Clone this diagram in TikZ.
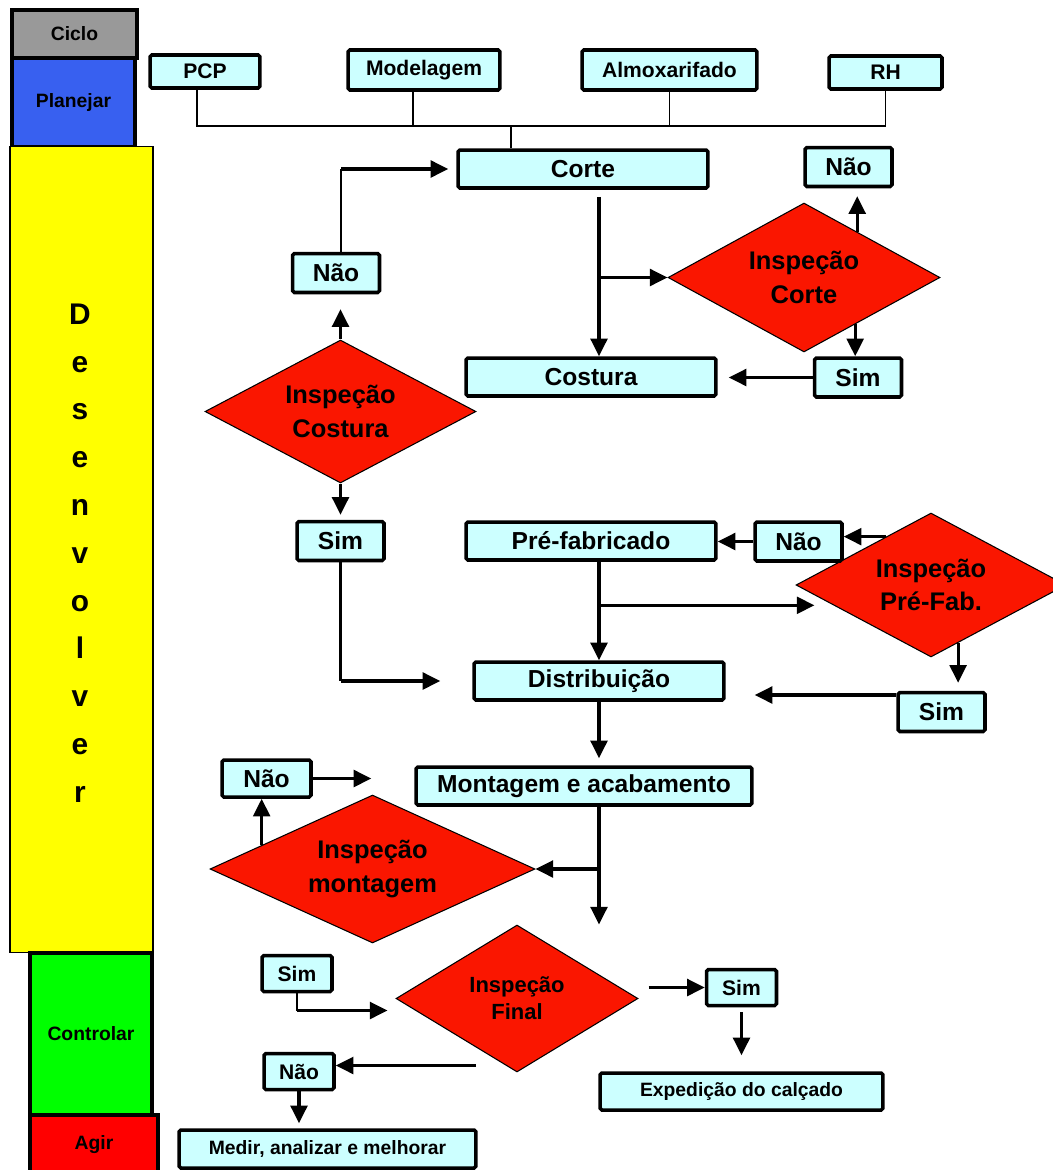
\documentclass[tikz,border=0pt]{standalone}
\usepackage{fontspec}
\setmainfont{Liberation Sans}
\usetikzlibrary{shapes.geometric,arrows.meta,calc}
\definecolor{boxCyan}  {RGB}{204,255,255}
\definecolor{inspRed}  {RGB}{250,22,0}
\definecolor{cicloGray}{RGB}{153,153,153}
\definecolor{planBlue} {RGB}{56,96,240}
\definecolor{devYellow}{RGB}{255,255,0}
\definecolor{ctrlGreen}{RGB}{0,255,0}
\definecolor{actRed}   {RGB}{255,0,0}

\begin{document}
\begin{tikzpicture}[x=0.02cm, y=-0.02cm,
      phase/.style={draw=black, line width=2.2pt, inner sep=0pt,
                    font=\fontsize{11}{13}\selectfont\bfseries},
      stepbox/.style={draw=black, line width=2pt, fill=boxCyan, rounded corners=1pt,
                      inner sep=0pt, minimum height=0.76cm,
                      font=\fontsize{14}{16}\selectfont\bfseries},
      dept/.style={stepbox, font=\fontsize{12}{14}\selectfont\bfseries},
      answer/.style={stepbox, minimum width=1.74cm, minimum height=0.78cm},
      smallanswer/.style={stepbox, minimum width=1.4cm, minimum height=0.72cm,
                          font=\fontsize{12}{14}\selectfont\bfseries},
      check/.style={diamond, draw=black, line width=0.6pt, fill=inspRed, inner sep=0pt,
                    aspect=1.9, align=center, font=\fontsize{14.5}{19}\selectfont\bfseries},
      flow/.style={-{Triangle[length=10pt,width=9.5pt]}, line width=1.8pt},
      feed/.style={line width=0.8pt}]
    \useasboundingbox (0,0) rectangle (1053,1170);

    % ciclo PDCA
    \node[phase, fill=cicloGray, minimum width=2.5cm, minimum height=0.96cm] (ciclo) at (74.5,34) {Ciclo};
    \node[phase, fill=planBlue, minimum width=2.46cm, minimum height=1.78cm] (planejar) at (73.5,102.5) {Planejar};
    \node[phase, fill=devYellow, line width=0.6pt, minimum width=2.86cm, minimum height=16.14cm] (desenvolver) at (81.5,549.5) {};
    \node[font=\fontsize{17}{27.2}\selectfont\bfseries, align=center] (desenvText) at (80,553)
      {D\\e\\s\\e\\n\\v\\o\\l\\v\\e\\r};
    \node[phase, fill=ctrlGreen, minimum width=2.44cm, minimum height=3.24cm] (controlar) at (91,1034) {Controlar};
    \node[phase, fill=actRed, minimum width=2.56cm, minimum height=1.2cm] (agir) at (94,1145) {Agir};

    % departamentos
    \node[dept, minimum width=2.2cm,  minimum height=0.66cm] (pcp)       at (205,71.5)   {PCP};
    \node[dept, minimum width=3.04cm, minimum height=0.8cm]  (modelagem) at (424,70)     {Modelagem};
    \node[dept, minimum width=3.5cm,  minimum height=0.8cm]  (almox)     at (669.5,70)   {Almoxarifado};
    \node[dept, minimum width=2.26cm, minimum height=0.66cm] (rh)        at (885.5,72.5) {RH};

    % etapas
    \node[stepbox, minimum width=5cm]    (corte)    at (583,169) {Corte};
    \node[stepbox, minimum width=5cm]    (costura)  at (591,377) {Costura};
    \node[stepbox, minimum width=5cm]    (prefab)   at (591,541) {Pré-fabricado};
    \node[stepbox, minimum width=5cm]    (distrib)  at (599,681) {Distribuição};
    \node[stepbox, minimum width=6.72cm] (montagem) at (584,786) {Montagem e acabamento};
    \node[stepbox, minimum width=5.66cm, minimum height=0.74cm, font=\fontsize{11}{13}\selectfont\bfseries]
      (expedicao) at (741.5,1091.5) {Expedição do calçado};
    \node[stepbox, minimum width=5.94cm, font=\fontsize{11}{13}\selectfont\bfseries]
      (medir) at (327.5,1149) {Medir, analizar e melhorar};

    % inspecoes
    \node[check, minimum width=5.44cm, minimum height=2.98cm] (inspCorte)    at (804,277.5)   {Inspeção\\Corte};
    \node[check, minimum width=5.42cm, minimum height=2.86cm] (inspCostura)  at (340.5,411.5) {Inspeção\\Costura};
    \node[check, minimum width=5.4cm,  minimum height=2.88cm] (inspPrefab)   at (931,585)     {Inspeção\\Pré-Fab.};
    \node[check, minimum width=6.5cm,  minimum height=2.96cm] (inspMontagem) at (372.5,869)   {Inspeção\\montagem};
    \node[check, minimum width=4.84cm, minimum height=2.94cm, font=\fontsize{12.5}{15.5}\selectfont\bfseries]
      (inspFinal) at (517,998.5) {Inspeção\\Final};

    % respostas
    \node[answer] (naoCorte)    at (848.5,167)   {Não};
    \node[answer] (simCorte)    at (858,377.5)   {Sim};
    \node[answer] (naoCostura)  at (336,273)     {Não};
    \node[answer] (simCostura)  at (340.5,541)   {Sim};
    \node[answer] (naoPrefab)   at (798.5,541.5) {Não};
    \node[answer] (simPrefab)   at (941.5,712)   {Sim};
    \node[answer, minimum width=1.78cm, minimum height=0.74cm] (naoMontagem) at (266.5,778.5) {Não};
    \node[smallanswer] (simFinalIn) at (297,973.5)   {Sim};
    \node[smallanswer] (simFinal)   at (741.5,987.5) {Sim};
    \node[smallanswer] (naoFinal)   at (299,1071.5)  {Não};

    % departamentos -> corte
    \coordinate (bus) at (0,126);
    \coordinate (pcpFeed) at ($(pcp.south)+(-8,0)$);
    \coordinate (modFeed) at ($(modelagem.south)+(-11,0)$);
    \coordinate (corteFeed) at ($(corte.north)+(-72,0)$);
    \draw[feed] (pcpFeed) |- (bus -| rh.south) -- (rh.south);
    \draw[feed] (modFeed) -- (modFeed |- bus);
    \draw[feed] (almox.south) -- (almox.south |- bus);
    \draw[feed] (corteFeed) -- (corteFeed |- bus);

    % corte
    \coordinate (trunkA) at ($(corte.south)+(16,0)$);
    \draw[flow, shorten <=1.4mm] (trunkA) -- (trunkA |- costura.north);
    \draw[flow] (trunkA |- inspCorte.west) -- (inspCorte.west);
    \coordinate (corteNao) at ($(inspCorte.north)!0.39!(inspCorte.east)$);
    \draw[flow, shorten >=1.6mm] (corteNao) -- (corteNao |- naoCorte.south);
    \coordinate (corteSim) at ($(inspCorte.south)!0.375!(inspCorte.east)$);
    \draw[flow] (corteSim) -- (corteSim |- simCorte.north);
    \draw[flow, shorten >=2.2mm] (simCorte.west) -- (simCorte.west -| costura.east);

    % costura
    \draw[flow, shorten >=3mm] (inspCostura.north) -- (inspCostura.north |- naoCostura.south);
    \coordinate (naoCosturaTop) at ($(naoCostura.north)+(5,0)$);
    \draw[feed, line width=1.2pt] (naoCosturaTop) -- (naoCosturaTop |- corte.west);
    \draw[flow, shorten >=1.6mm] (naoCosturaTop |- corte.west) -- (corte.west);
    \draw[flow, shorten >=1mm] (inspCostura.south) -- (inspCostura.south |- simCostura.north);
    \draw[feed, line width=1.2pt] (simCostura.south) -- (simCostura.south |- distrib.west);
    \draw[flow, shorten >=6.4mm] (simCostura.south |- distrib.west) -- (distrib.west);

    % pre-fabricado
    \coordinate (trunkB) at ($(prefab.south)+(8,0)$);
    \draw[flow] (trunkB) -- (trunkB |- distrib.north);
    \coordinate (prefabIn) at ($(inspPrefab.west)!0.28!(inspPrefab.south)$);
    \draw[flow, shorten >=3.8mm] (trunkB |- prefabIn) -- (prefabIn);
    \coordinate (prefabNao) at ($(inspPrefab.west)!0.667!(inspPrefab.north)$);
    \draw[flow] (prefabNao) -- (prefabNao -| naoPrefab.east);
    \draw[flow] (naoPrefab.west) -- (naoPrefab.west -| prefab.east);
    \coordinate (prefabSim) at ($(inspPrefab.south)!0.2!(inspPrefab.east)$);
    \draw[flow, shorten >=1.6mm] (prefabSim) -- (prefabSim |- simPrefab.north);
    \coordinate (simPrefabOut) at ($(simPrefab.west)+(0,-17)$);
    \draw[flow, shorten >=5.8mm] (simPrefabOut) -- (simPrefabOut -| distrib.east);

    % distribuicao e montagem
    \draw[flow, shorten >=1.4mm] (distrib.south) -- (distrib.south |- montagem.north);
    \coordinate (trunkC) at ($(montagem.south)+(15,0)$);
    \draw[flow] (trunkC) -- (trunkC |- inspFinal.north);
    \draw[flow] (trunkC |- inspMontagem.east) -- (inspMontagem.east);
    \coordinate (montNao) at ($(inspMontagem.west)!0.32!(inspMontagem.north)$);
    \draw[flow] (montNao) -- (montNao |- naoMontagem.south);
    \draw[flow, shorten >=8.6mm] (naoMontagem.east) -- (naoMontagem.east -| montagem.west);

    % inspecao final
    \coordinate (finalIn) at ($(inspFinal.west)+(0,12)$);
    \draw[feed, line width=1.2pt] (simFinalIn.south) -- (simFinalIn.south |- finalIn);
    \draw[flow, shorten >=1.6mm] (simFinalIn.south |- finalIn) -- (finalIn);
    \draw[flow, shorten <=2mm] (simFinal.west -| inspFinal.east) -- (simFinal.west);
    \draw[flow, shorten <=1mm, shorten >=3.2mm] (simFinal.south) -- (simFinal.south |- expedicao.north);
    \coordinate (naoFinalIn) at ($(naoFinal.east)+(0,-6)$);
    \draw[flow, shorten <=8.2mm] (naoFinalIn -| inspFinal.south) -- (naoFinalIn);
    \draw[flow, shorten >=1mm] (naoFinal.south) -- (naoFinal.south |- medir.north);
  \end{tikzpicture}
\end{document}
